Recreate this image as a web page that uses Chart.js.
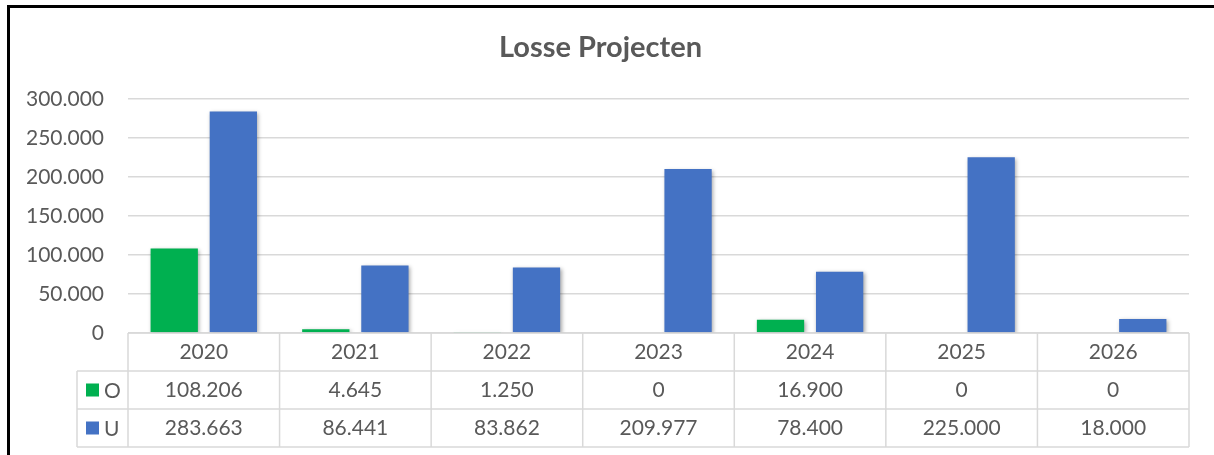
<!DOCTYPE html>
<html>
<head>
<meta charset="utf-8">
<title>Losse Projecten</title>
<script src="https://cdn.jsdelivr.net/npm/chart.js@4"></script>
<style>
  html, body { margin: 0; padding: 0; background: #fff; overflow: hidden; }
  #wrap { position: relative; width: 1214px; height: 455px; overflow: hidden; }
  .edge { position: absolute; background: #000; }
  #edge-top { left: 7px; top: 5px; width: 1207px; height: 3px; }
  #edge-left { left: 7px; top: 5px; width: 3px; height: 450px; }
  #chart { position: absolute; left: 0; top: 0; }
</style>
</head>
<body>
<div id="wrap">
  <div class="edge" id="edge-top"></div>
  <div class="edge" id="edge-left"></div>
  <canvas id="chart" width="1214" height="455"></canvas>
</div>
<script>
const years = ['2020', '2021', '2022', '2023', '2024', '2025', '2026'];
const o_values = [108206, 4645, 1250, 0, 16900, 0, 0];
const u_values = [283663, 86441, 83862, 209977, 78400, 225000, 18000];
const series_names = ['O', 'U'];
const series_colors = ['#00B050', '#4472C4'];

const textColor = '#595959';
const lineColor = '#d9d9d9';
const fontFamily = 'Lato, "Open Sans", sans-serif';

// dutch thousands separator
function fmt(v) {
    return String(v).replace(/\B(?=(\d{3})+(?!\d))/g, '.');
}

// soft shadow under the bars, like excel does
const barShadow = {
    id: 'barShadow',
    beforeDatasetsDraw(chart) {
        const ctx = chart.ctx;
        ctx.save();
        ctx.shadowColor = 'rgba(0,0,0,0.35)';
        ctx.shadowBlur = 4;
        ctx.shadowOffsetX = 1.5;
        ctx.shadowOffsetY = 1.5;
    },
    afterDatasetsDraw(chart) {
        chart.ctx.restore();
    }
};

// data table under the x axis
const dataTable = {
    id: 'dataTable',
    afterDraw(chart) {
        const ctx = chart.ctx;
        const area = chart.chartArea;
        const x = chart.scales.x;
        const n = chart.data.labels.length;
        const colW = (area.right - area.left) / n;
        const rowH = 38;
        const top = area.bottom;
        const keyLeft = 77;
        const rows = chart.data.datasets;
        const bottom = top + rowH * (rows.length + 1);

        ctx.save();
        ctx.strokeStyle = lineColor;
        ctx.lineWidth = 1.5;
        ctx.beginPath();
        // horizontal lines
        ctx.moveTo(area.left, top);
        ctx.lineTo(area.right, top);
        for (let r = 1; r <= rows.length + 1; r++) {
            ctx.moveTo(keyLeft, top + rowH * r);
            ctx.lineTo(area.right, top + rowH * r);
        }
        // vertical lines
        for (let c = 0; c <= n; c++) {
            const cx = area.left + colW * c;
            ctx.moveTo(cx, top);
            ctx.lineTo(cx, bottom);
        }
        ctx.moveTo(keyLeft, top + rowH);
        ctx.lineTo(keyLeft, bottom);
        ctx.stroke();

        ctx.fillStyle = textColor;
        ctx.font = '21px ' + fontFamily;
        ctx.textAlign = 'center';
        ctx.textBaseline = 'middle';
        chart.data.labels.forEach((lab, i) => {
            ctx.fillText(lab, x.getPixelForValue(i), top + rowH / 2);
        });
        rows.forEach((ds, r) => {
            const cy = top + rowH * (r + 1) + rowH / 2;
            ds.data.forEach((v, i) => {
                ctx.fillText(fmt(v), x.getPixelForValue(i), cy);
            });
            ctx.fillStyle = ds.backgroundColor;
            ctx.fillRect(86, cy - 6.5, 13, 13);
            ctx.fillStyle = textColor;
            ctx.textAlign = 'left';
            ctx.fillText(ds.label, 104, cy + 1);
            ctx.textAlign = 'center';
        });
        ctx.restore();
    }
};

new Chart(
    document.getElementById('chart'),
    {
        type: 'bar',
        data: {
            labels: years,
            datasets: [
                {
                    label: series_names[0],
                    data: o_values,
                    backgroundColor: series_colors[0],
                    categoryPercentage: 0.78,
                    barPercentage: 0.8
                },
                {
                    label: series_names[1],
                    data: u_values,
                    backgroundColor: series_colors[1],
                    categoryPercentage: 0.78,
                    barPercentage: 0.8
                }
            ]
        },
        options: {
            responsive: false,
            animation: false,
            devicePixelRatio: 1,
            layout: {
                padding: { left: 12, top: 0, right: 25, bottom: 122 }
            },
            plugins: {
                legend: { display: false },
                tooltip: { enabled: false },
                title: {
                    display: true,
                    text: 'Losse Projecten',
                    color: textColor,
                    font: { family: fontFamily, size: 29, weight: 'bold', lineHeight: 1.2 },
                    padding: { top: 30, bottom: 34 }
                }
            },
            scales: {
                x: {
                    display: false
                },
                y: {
                    min: 0,
                    max: 300000,
                    border: { display: false },
                    grid: { color: lineColor, lineWidth: 1.5, drawTicks: false },
                    ticks: {
                        stepSize: 50000,
                        padding: 24,
                        color: textColor,
                        font: { family: fontFamily, size: 21 },
                        callback: v => fmt(v)
                    },
                    afterFit(scale) {
                        scale.width = 116;
                    }
                }
            }
        },
        plugins: [barShadow, dataTable]
    }
);
</script>
</body>
</html>
